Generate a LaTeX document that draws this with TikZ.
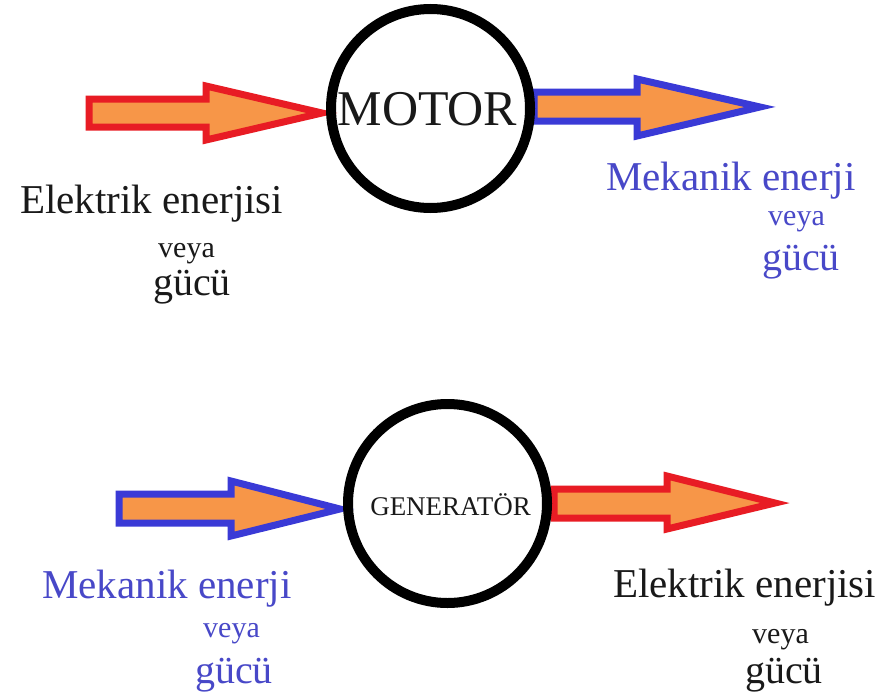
\documentclass[tikz,border=0pt]{standalone}
\usepackage{fontspec}
\setmainfont{Liberation Serif}
\definecolor{arrfill}{RGB}{247,150,72}
\definecolor{arred}{RGB}{232,28,36}
\definecolor{arblue}{RGB}{58,58,214}
\definecolor{txtblue}{RGB}{72,72,200}
\definecolor{txtblack}{RGB}{25,25,25}
\begin{document}
\begin{tikzpicture}[x=1pt,y=-1pt,
  redarrow/.style={draw=arred, fill=arrfill, line width=7pt, line join=miter},
  bluearrow/.style={draw=arblue, fill=arrfill, line width=7pt, line join=miter},
  ring/.style={circle, draw=black, line width=10pt, minimum size=199pt, inner sep=0pt},
  lbl/.style={anchor=base west, inner sep=0pt, text=txtblack},
  blbl/.style={anchor=base west, inner sep=0pt, text=txtblue},
  big/.style={font=\fontsize{41}{41}\selectfont},
  mid/.style={font=\fontsize{40}{40}\selectfont},
  small/.style={font=\fontsize{30}{30}\selectfont}]
\useasboundingbox (0,0) rectangle (883,699);
\fill[white] (0,0) rectangle (883,699);
% arrows
\draw[redarrow] (89,99) -- (206,99) -- (206,86) -- (322,113) -- (206,140) -- (206,127) -- (89,127) -- cycle;
\draw[bluearrow] (534,92) -- (637,92) -- (637,79) -- (760,107) -- (637,136) -- (637,121) -- (534,121) -- cycle;
\draw[bluearrow] (119,494) -- (231,494) -- (231,481) -- (340,509) -- (231,536) -- (231,523) -- (119,523) -- cycle;
\draw[redarrow] (554,489) -- (667,489) -- (667,476) -- (775,503) -- (667,529) -- (667,518) -- (554,518) -- cycle;
% circles
\node[ring] (motor) at (430.5,108.5) {};
\node[ring] (gen) at (447.5,503.5) {};
\node[anchor=base, inner sep=0pt, text=txtblack, font=\fontsize{50}{50}\selectfont] (motortxt) at (427.5,125) {MOTOR};
\node[anchor=base, inner sep=0pt, text=txtblack, font=\fontsize{27}{27}\selectfont] (gentxt) at (450.5,515) {GENERATÖR};
% top labels
\node[lbl, big] (e1) at (20,213) {Elektrik enerjisi};
\node[lbl, small] (v1) at (158,257) {veya};
\node[lbl, mid] (g1) at (153,295) {gücü};
\node[blbl, big] (m1) at (606,190) {Mekanik enerji};
\node[blbl, small] (v2) at (768,225) {veya};
\node[blbl, mid] (g2) at (762,270) {gücü};
% bottom labels
\node[blbl, big] (m2) at (42,598) {Mekanik enerji};
\node[blbl, small] (v3) at (203,637) {veya};
\node[blbl, mid] (g3) at (195,683) {gücü};
\node[lbl, big] (e2) at (613,597) {Elektrik enerjisi};
\node[lbl, small] (v4) at (752,643) {veya};
\node[lbl, mid] (g4) at (745,683) {gücü};
\end{tikzpicture}
\end{document}
